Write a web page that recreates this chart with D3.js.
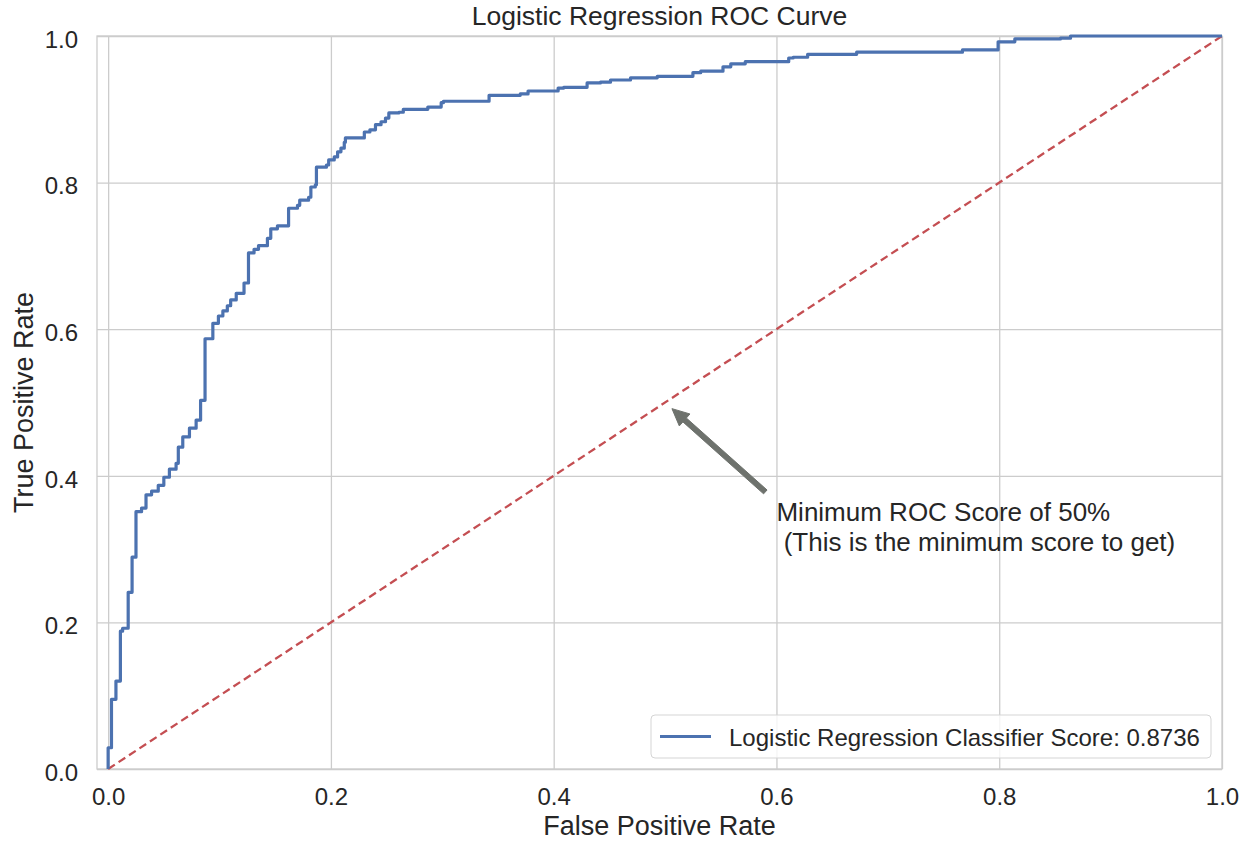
<!DOCTYPE html>
<html>
<head>
<meta charset="utf-8">
<script src="https://cdn.jsdelivr.net/npm/d3@7"></script>
<style>
  body { margin: 0; background: #fff; }
  text { font-family: "Liberation Sans", Arial, sans-serif; fill: #262626; }
</style>
</head>
<body>
<div id="chart"></div>
<script>
// ROC curve corners (x where the step happens, tpr after the step)
const fpr = [0, 0, 0.003, 0.007, 0.011, 0.013, 0.018, 0.0215, 0.025, 0.030, 0.034, 0.039, 0.045, 0.050, 0.055,
  0.061, 0.063, 0.067, 0.073, 0.079, 0.083, 0.087, 0.094, 0.099, 0.103, 0.107, 0.110, 0.115, 0.122, 0.126,
  0.131, 0.135, 0.143, 0.146, 0.152, 0.162, 0.170, 0.172, 0.180, 0.182, 0.186, 0.187, 0.196, 0.198, 0.203,
  0.206, 0.209, 0.212, 0.213, 0.230, 0.235, 0.240, 0.245, 0.249, 0.252, 0.261, 0.265, 0.287, 0.299, 0.301,
  0.342, 0.370, 0.377, 0.404, 0.409, 0.430, 0.442, 0.451, 0.469, 0.493, 0.525, 0.532, 0.552, 0.559, 0.572,
  0.611, 0.615, 0.628, 0.672, 0.767, 0.799, 0.814, 0.855, 0.864, 1.0];
const tpr = [0, 0.029, 0.095, 0.120, 0.188, 0.192, 0.241, 0.289, 0.351, 0.356, 0.374, 0.379, 0.387, 0.398, 0.409,
  0.417, 0.439, 0.453, 0.465, 0.476, 0.503, 0.587, 0.608, 0.618, 0.625, 0.632, 0.640, 0.649, 0.663, 0.704,
  0.709, 0.714, 0.724, 0.737, 0.741, 0.765, 0.769, 0.776, 0.780, 0.794, 0.797, 0.821, 0.824, 0.831, 0.835,
  0.842, 0.847, 0.855, 0.861, 0.869, 0.872, 0.879, 0.883, 0.888, 0.895, 0.896, 0.900, 0.903, 0.909, 0.911,
  0.919, 0.921, 0.925, 0.929, 0.930, 0.936, 0.937, 0.940, 0.943, 0.945, 0.950, 0.952, 0.958, 0.962, 0.965,
  0.970, 0.971, 0.975, 0.978, 0.981, 0.992, 0.996, 0.997, 1.0, 1.0];

const chanceX = [0, 1];
const chanceY = [0, 1];

const xTicks = [0.0, 0.2, 0.4, 0.6, 0.8, 1.0];
const yTicks = [0.0, 0.2, 0.4, 0.6, 0.8, 1.0];

const titleText = "Logistic Regression ROC Curve";
const xLabel = "False Positive Rate";
const yLabel = "True Positive Rate";
const legendLabel = "Logistic Regression Classifier Score: 0.8736";
const noteLines = ["Minimum ROC Score of 50%", " (This is the minimum score to get)"];
const notePoint = [0.5, 0.5];     // where the arrow points
const noteText = [0.6, 0.3];      // where the text sits
const arrowTail = [0.590, 0.378];

const width = 1239, height = 842;
const margin = {top: 36, right: 17, bottom: 73, left: 97};
const plotW = width - margin.left - margin.right;
const plotH = height - margin.top - margin.bottom;

const svg = d3.select("#chart")
  .append("svg")
  .attr("width", width)
  .attr("height", height);

const g = svg.append("g")
  .attr("transform", `translate(${margin.left},${margin.top})`);

let x = d3.scaleLinear().domain([-0.01, 1.0]).range([0, plotW]);
let y = d3.scaleLinear().domain([0, 1.0]).range([plotH, 0]);

// grid
g.append("g")
  .attr("class", "grid")
  .attr("transform", `translate(0,${plotH})`)
  .call(d3.axisBottom(x).tickValues(xTicks).tickSize(-plotH).tickFormat(""))
  .call(s => s.select(".domain").remove());
g.append("g")
  .attr("class", "grid")
  .call(d3.axisLeft(y).tickValues(yTicks).tickSize(-plotW).tickFormat(""))
  .call(s => s.select(".domain").remove());
g.selectAll(".grid line").attr("stroke", "#cccccc").attr("stroke-width", 1.3);

// frame
g.append("rect")
  .attr("width", plotW).attr("height", plotH)
  .attr("fill", "none").attr("stroke", "#cccccc").attr("stroke-width", 1.3);

// tick labels
let xAxis = g.append("g")
  .attr("transform", `translate(0,${plotH})`)
  .call(d3.axisBottom(x).tickValues(xTicks).tickSize(0).tickPadding(19).tickFormat(d3.format(".1f")));
xAxis.select(".domain").remove();
let yAxis = g.append("g")
  .call(d3.axisLeft(y).tickValues(yTicks).tickSize(0).tickPadding(19).tickFormat(d3.format(".1f")));
yAxis.select(".domain").remove();
yAxis.selectAll("text").attr("dy", "0.47em");
g.selectAll(".tick text").attr("font-size", 24).attr("fill", "#262626")
  .style("font-family", '"Liberation Sans", Arial, sans-serif');

// chance line
const chance = chanceX.map((d, i) => [d, chanceY[i]]);
g.append("path")
  .datum(chance)
  .attr("d", d3.line().x(d => x(d[0])).y(d => y(d[1])))
  .attr("fill", "none")
  .attr("stroke", "#c44e52")
  .attr("stroke-width", 2.3)
  .attr("stroke-dasharray", "8,4.5");

// roc curve
const roc = fpr.map((d, i) => [d, tpr[i]]);
g.append("path")
  .datum(roc)
  .attr("d", d3.line().x(d => x(d[0])).y(d => y(d[1])).curve(d3.curveStepAfter))
  .attr("fill", "none")
  .attr("stroke", "#4c72b0")
  .attr("stroke-width", 3.2)
  .attr("stroke-linejoin", "round");

// annotation arrow
const tipFull = [x(notePoint[0]), y(notePoint[1])];
const txtPos = [x(noteText[0]), y(noteText[1])];
const tail = [x(arrowTail[0]), y(arrowTail[1])];
const shrink = 0.05 * Math.hypot(txtPos[0] - tipFull[0], txtPos[1] - tipFull[1]);
let dx = tipFull[0] - tail[0], dy = tipFull[1] - tail[1];
let len = Math.hypot(dx, dy);
let ux = dx / len, uy = dy / len;
const tip = [tipFull[0] - ux * shrink, tipFull[1] - uy * shrink];
const headLen = 17, headW = 8, bodyW = 2.6;
const px = -uy, py = ux;
const base = [tip[0] - ux * headLen, tip[1] - uy * headLen];
const arrowPts = [
  [tail[0] + px * bodyW, tail[1] + py * bodyW],
  [base[0] + px * bodyW, base[1] + py * bodyW],
  [base[0] + px * headW, base[1] + py * headW],
  tip,
  [base[0] - px * headW, base[1] - py * headW],
  [base[0] - px * bodyW, base[1] - py * bodyW],
  [tail[0] - px * bodyW, tail[1] - py * bodyW]
];
g.append("polygon")
  .attr("points", arrowPts.map(p => p.join(",")).join(" "))
  .attr("fill", "#6e726d")
  .attr("stroke", "#6e726d")
  .attr("stroke-width", 1)
  .attr("stroke-linejoin", "round");

const note = g.append("text")
  .attr("x", txtPos[0])
  .attr("y", txtPos[1] + 2)
  .attr("font-size", 26)
  .style("white-space", "pre");
note.selectAll("tspan")
  .data(noteLines)
  .join("tspan")
  .attr("x", txtPos[0])
  .attr("dy", (d, i) => i === 0 ? -30 : 30)
  .text(d => d);

// legend
const legW = 560, legH = 43;
const leg = g.append("g")
  .attr("transform", `translate(${plotW - 11 - legW},${plotH - 11 - legH})`);
leg.append("rect")
  .attr("width", legW).attr("height", legH)
  .attr("rx", 4)
  .attr("fill", "#ffffff").attr("fill-opacity", 0.8)
  .attr("stroke", "#d5d5d5").attr("stroke-width", 1);
leg.append("line")
  .attr("x1", 9).attr("x2", 60)
  .attr("y1", legH / 2).attr("y2", legH / 2)
  .attr("stroke", "#4c72b0").attr("stroke-width", 3.2);
leg.append("text")
  .attr("x", 78).attr("y", legH / 2 + 9)
  .attr("font-size", 24)
  .text(legendLabel);

// titles
svg.append("text")
  .attr("x", margin.left + plotW / 2)
  .attr("y", 25)
  .attr("text-anchor", "middle")
  .attr("font-size", 26.5)
  .text(titleText);

svg.append("text")
  .attr("x", margin.left + plotW / 2)
  .attr("y", 835)
  .attr("text-anchor", "middle")
  .attr("font-size", 27)
  .text(xLabel);

svg.append("text")
  .attr("transform", `translate(33,${margin.top + plotH / 2}) rotate(-90)`)
  .attr("text-anchor", "middle")
  .attr("font-size", 27)
  .text(yLabel);
</script>
</body>
</html>
